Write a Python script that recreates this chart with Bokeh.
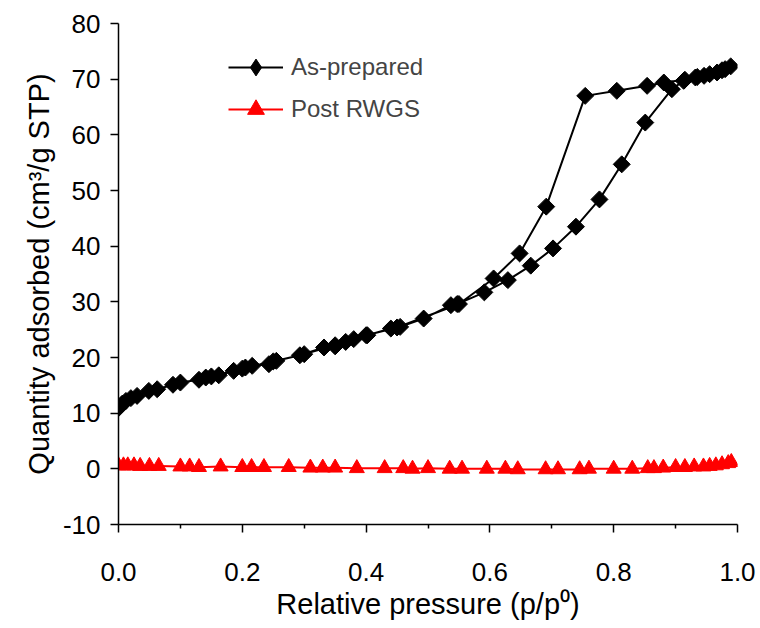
import math
from bokeh.plotting import figure
from bokeh.models import Range1d, Legend, LegendItem, FixedTicker, CustomJSTickFormatter
from bokeh.embed import file_html
from bokeh.resources import INLINE

# As-prepared: adsorption branch then desorption branch
ads_x = [0.0, 0.006, 0.012, 0.02, 0.03, 0.049, 0.0625, 0.088, 0.1, 0.13, 0.141, 0.162, 0.186,
         0.205, 0.216, 0.243, 0.255, 0.293, 0.332, 0.35, 0.367, 0.38, 0.402, 0.44, 0.455,
         0.493, 0.537, 0.547, 0.591, 0.629, 0.666, 0.702, 0.739, 0.777, 0.813, 0.851,
         0.894, 0.913, 0.932, 0.946, 0.967, 0.98, 0.989]
ads_y = [10.9, 11.7, 12.2, 12.7, 13.1, 14.0, 14.3, 15.1, 15.5, 16.0, 16.4, 16.8, 17.6,
         18.2, 18.5, 18.8, 19.4, 20.4, 21.8, 22.0, 22.8, 23.3, 24.0, 25.2, 25.5,
         27.0, 29.4, 29.6, 31.7, 33.9, 36.5, 39.6, 43.5, 48.4, 54.7, 62.2,
         68.2, 69.7, 70.3, 70.6, 71.2, 71.8, 72.3]
des_x = [0.975, 0.955, 0.935, 0.915, 0.881, 0.854, 0.805, 0.754, 0.691, 0.648, 0.606,
         0.55, 0.45, 0.40, 0.35, 0.30, 0.25, 0.20, 0.15]
des_y = [71.6, 70.9, 70.4, 69.9, 69.4, 68.8, 67.9, 67.0, 47.1, 38.7, 34.2,
         29.6, 25.4, 24.0, 22.2, 20.6, 19.3, 18.0, 16.6]

# Post RWGS
post_x = [0.0, 0.008, 0.015, 0.025, 0.035, 0.05, 0.065, 0.1, 0.115, 0.13, 0.165, 0.2,
          0.215, 0.235, 0.275, 0.31, 0.33, 0.35, 0.385, 0.43, 0.46, 0.475, 0.5, 0.535,
          0.555, 0.595, 0.625, 0.645, 0.69, 0.71, 0.745, 0.76, 0.8, 0.83, 0.855, 0.865,
          0.88, 0.9, 0.915, 0.93, 0.945, 0.955, 0.965, 0.975, 0.985, 0.99]
post_y = [0.6, 0.6, 0.6, 0.6, 0.5, 0.5, 0.5, 0.4, 0.4, 0.3, 0.4, 0.3,
          0.3, 0.3, 0.3, 0.2, 0.2, 0.2, 0.1, 0.1, 0.1, 0.0, 0.1, 0.0,
          0.0, 0.0, 0.0, -0.1, -0.1, -0.1, -0.1, 0.0, 0.0, 0.0, 0.1, 0.1,
          0.2, 0.3, 0.3, 0.4, 0.4, 0.5, 0.6, 0.8, 1.0, 1.2]

x_ticks = [0.0, 0.2, 0.4, 0.6, 0.8, 1.0]
x_minor = [0.1, 0.3, 0.5, 0.7, 0.9]
y_ticks = [-10, 0, 10, 20, 30, 40, 50, 60, 70, 80]

FONT = "Liberation Sans"

p = figure(width=760, height=628, output_backend="svg", toolbar_location=None,
           x_range=Range1d(0, 1), y_range=Range1d(-10, 80),
           min_border_left=118, min_border_right=23, min_border_top=23, min_border_bottom=104)
p.outline_line_color = None
p.grid.visible = False
p.background_fill_color = "white"
p.border_fill_color = "white"

all_x = ads_x + des_x
all_y = ads_y + des_y
l1 = p.line(all_x, all_y, line_color="black", line_width=2)
p.scatter(all_x, all_y, marker="square", size=12, angle=math.pi / 4,
          fill_color="black", line_color="black")
l2 = p.line(post_x, post_y, line_color="red", line_width=2)
m2 = p.scatter(post_x, post_y, marker="triangle", size=15,
               fill_color="red", line_color="red")
# legend-only glyph (diamond shape) for the As-prepared entry; not drawn in the plot
m1_leg = p.scatter(x=[float("nan")], y=[float("nan")], marker="diamond", size=12,
                   fill_color="black", line_color="black")

# axes
xa = p.xaxis[0]
xa.ticker = FixedTicker(ticks=x_ticks, minor_ticks=x_minor)
xa.formatter = CustomJSTickFormatter(code="return tick.toFixed(1);")
xa.axis_label = "Relative pressure (p/p⁰)"
ya = p.yaxis[0]
ya.ticker = FixedTicker(ticks=y_ticks)
ya.formatter = CustomJSTickFormatter(code="return tick.toFixed(0);")
ya.axis_label = "Quantity adsorbed (cm³/g STP)"

for ax in (xa, ya):
    ax.axis_line_color = "black"
    ax.axis_line_width = 1.5
    ax.major_tick_line_color = "black"
    ax.major_tick_line_width = 1.5
    ax.major_tick_in = 0
    ax.major_tick_out = 8
    ax.major_label_text_font = FONT
    ax.major_label_text_font_size = "26px"
    ax.major_label_text_color = "black"
    ax.axis_label_text_font = FONT
    ax.axis_label_text_font_size = "29px"
    ax.axis_label_text_font_style = "normal"
    ax.axis_label_text_color = "black"
xa.minor_tick_line_color = "black"
xa.minor_tick_line_width = 1.5
xa.minor_tick_in = 0
xa.minor_tick_out = 4
ya.minor_tick_line_color = None
xa.major_label_standoff = 30
xa.axis_label_standoff = 4
ya.major_label_standoff = 10
ya.axis_label_standoff = 5

legend = Legend(items=[LegendItem(label="As-prepared", renderers=[l1, m1_leg]),
                       LegendItem(label="Post RWGS", renderers=[l2, m2])],
                location=(110, 394))
legend.border_line_color = None
legend.background_fill_alpha = 0
legend.label_text_font = FONT
legend.label_text_font_size = "24px"
legend.glyph_width = 55
legend.glyph_height = 42
legend.spacing = -3
legend.padding = 0
legend.margin = 0
legend.label_standoff = 8
p.add_layout(legend)

open("out.html", "w").write(file_html(p, INLINE))
